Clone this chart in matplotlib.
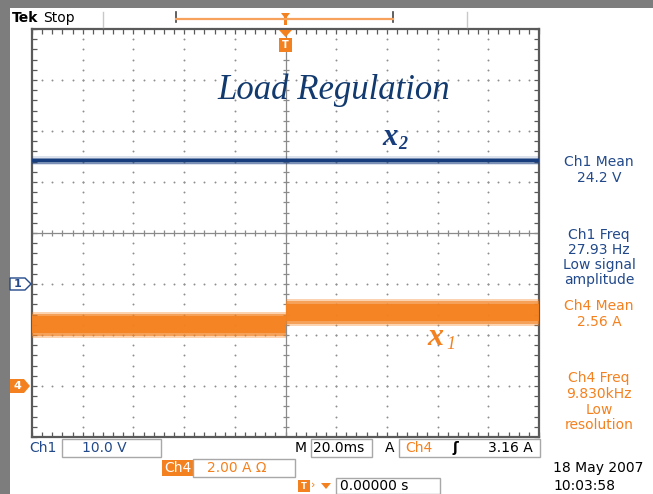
import matplotlib.pyplot as plt
from matplotlib.patches import Rectangle, Polygon

# values
time_ms = [-100, 0, 0, 100]            # 20 ms/div, trigger at 0
ch1_volts = [24.2, 24.2, 24.2, 24.2]   # x2 : output voltage
ch1_noise = 0.6                         # half width of the trace, V
ch4_amps = [2.40, 2.40, 2.88, 2.88]    # x1 : load current step
ch4_noise = 0.52                        # half width of the trace, A

time_div = 20.0                 # ms/div
ch1_scale, ch1_pos = 10.0, -1.0  # V/div, ground marker in div
ch4_scale, ch4_pos = 2.0, -3.0   # A/div, ground marker in div

ch1_readout = ["Ch1 Mean", "24.2 V", "", "", "Ch1 Freq", "27.93 Hz", "Low signal", "amplitude"]
ch4_readout = ["Ch4 Mean", "2.56 A", "", "", "Ch4 Freq", "9.830kHz", "Low", "resolution"]

NAVY = "#22498a"
TRACE_BLUE = "#173d7c"
ORANGE = "#f4811f"
GRID = "#8e8e8e"
FRAME = "#5a5a5a"
W, H = 653, 494

fig = plt.figure(figsize=(W / 100, H / 100), dpi=100)
fig.patch.set_facecolor("white")

# graticule area in pixels
L, T, R, B = 32, 29, 539, 437
ax = fig.add_axes([L / W, (H - B) / H, (R - L) / W, (B - T) / H], zorder=2)
ax.set_xlim(-5 * time_div, 5 * time_div)
ax.set_ylim(-4, 4)

# dotted graticule
for k in range(-4, 5):
    if k == 0:
        continue
    ys = [i * 0.2 - 4 for i in range(41)]
    ax.plot([k * time_div] * len(ys), ys, ls="none", marker="o", ms=1.4, color=GRID, mew=0)
for k in range(-3, 4):
    if k == 0:
        continue
    xs = [(i * 0.2 - 5) * time_div for i in range(51)]
    ax.plot(xs, [k] * len(xs), ls="none", marker="o", ms=1.4, color=GRID, mew=0)

# centre lines with small ticks
ax.axvline(0, color="#8a8a8a", lw=0.9)
ax.axhline(0, color="#8a8a8a", lw=0.9)
ys = [i * 0.2 - 4 for i in range(41)]
ax.plot([0] * len(ys), ys, ls="none", marker="_", ms=5, color="#8a8a8a", mew=0.9)
xs = [(i * 0.2 - 5) * time_div for i in range(51)]
ax.plot(xs, [0] * len(xs), ls="none", marker="|", ms=5, color="#8a8a8a", mew=0.9)

# traces (noise drawn as its envelope, denser towards the middle)
ch1_div = [v / ch1_scale + ch1_pos for v in ch1_volts]
n1 = ch1_noise / ch1_scale
for f, a in [(1.6, 0.15), (1.0, 0.5), (0.55, 1.0)]:
    ax.fill_between(time_ms, [y - n1 * f for y in ch1_div], [y + n1 * f for y in ch1_div],
                    color=TRACE_BLUE, alpha=a, lw=0, zorder=4)

ch4_div = [a / ch4_scale + ch4_pos for a in ch4_amps]
n4 = ch4_noise / ch4_scale
for f, a in [(1.0, 0.35), (0.85, 0.6), (0.65, 0.9)]:
    ax.fill_between(time_ms, [y - n4 * f for y in ch4_div], [y + n4 * f for y in ch4_div],
                    color=ORANGE, alpha=a, lw=0, zorder=4)

# frame with ticks
for s in ax.spines.values():
    s.set_color(FRAME)
    s.set_linewidth(1.6)
ax.set_xticks([k * time_div for k in range(-5, 6)])
ax.set_yticks(range(-4, 5))
ax.set_xticks(xs, minor=True)
ax.set_yticks(ys, minor=True)
ax.tick_params(which="both", direction="in", length=3.5, width=0.9, color=FRAME,
               top=True, right=True, labelbottom=False, labelleft=False)

# overlay in pixel coordinates for the scope furniture
ov = fig.add_axes([0, 0, 1, 1], zorder=5)
ov.set_xlim(0, W)
ov.set_ylim(H, 0)
ov.axis("off")
ov.patch.set_alpha(0)

ov.add_patch(Rectangle((0, 0), 10, H, color="#7d7d7d", lw=0))
ov.add_patch(Rectangle((0, 0), W, 8, color="#7d7d7d", lw=0))

tek = dict(family="DejaVu Sans", fontsize=10, va="center")

# top bar
ov.text(12, 18, "Tek", fontweight="bold", **tek, color="black")
ov.text(43, 18, "Stop", **tek, color="black")
ov.plot([103, 103], [12, 27], color="#c8c8c8", lw=1)
ov.plot([467, 467], [12, 27], color="#c8c8c8", lw=1)
ov.plot([176, 176], [12, 22], color="#444444", lw=1.2)
ov.plot([393, 393], [12, 22], color="#444444", lw=1.2)
ov.plot([176, 393], [19, 19], color="#f6a15c", lw=1.6)
ov.add_patch(Polygon([(281, 13), (290, 13), (287, 17), (287, 25), (284, 25), (284, 17)],
                     closed=True, color=ORANGE, lw=0))

# trigger position marker under the top edge
ov.add_patch(Polygon([(279, 30), (292, 30), (285.5, 37)], closed=True, color=ORANGE, lw=0))
ov.add_patch(Rectangle((279, 38), 13, 14, color=ORANGE, lw=0))
ov.text(285.5, 45, "T", color="white", fontsize=7, fontweight="bold", ha="center", va="center")

# channel ground markers
def level_px(div):
    return T + (4 - div) * (B - T) / 8

y1 = level_px(ch1_pos)
ov.add_patch(Polygon([(10, y1 - 6), (25, y1 - 6), (31, y1), (25, y1 + 6), (10, y1 + 6)],
                     closed=True, facecolor="white", edgecolor=NAVY, lw=1))
ov.text(18, y1, "1", color=NAVY, fontsize=8, fontweight="bold", ha="center", va="center")
y4 = level_px(ch4_pos)
ov.add_patch(Polygon([(10, y4 - 7), (24, y4 - 7), (30, y4), (24, y4 + 7), (10, y4 + 7)],
                     closed=True, color=ORANGE, lw=0))
ov.text(17, y4, "4", color="white", fontsize=8, fontweight="bold", ha="center", va="center")

# annotations
ov.text(334, 90, "Load Regulation", family="Liberation Serif", style="italic",
        fontsize=25, color="#123a6e", ha="center", va="center")
ov.text(382, 137, "x", family="Liberation Serif", style="italic", fontweight="bold",
        fontsize=22, color=TRACE_BLUE, va="center")
ov.text(398, 144, "2", family="Liberation Serif", style="italic", fontweight="bold",
        fontsize=13, color=TRACE_BLUE, va="center")
ov.text(427, 337, "x", family="Liberation Serif", style="italic", fontweight="bold",
        fontsize=23, color=ORANGE, va="center")
ov.text(446, 344, "1", family="Liberation Serif", style="italic",
        fontsize=13, color=ORANGE, va="center")

# measurement readouts on the right
row_y = [162, 178, 0, 0, 235, 250, 265, 280]
for txt, y in zip(ch1_readout, row_y):
    if txt:
        ov.text(599, y, txt, color=NAVY, ha="center", **tek)
row_y = [306, 322, 0, 0, 378, 394, 410, 425]
for txt, y in zip(ch4_readout, row_y):
    if txt:
        ov.text(599, y, txt, color=ORANGE, ha="center", **tek)

# bottom status line
box = dict(fill=False, edgecolor="#a8a8a8", lw=1)
ov.text(29, 448, "Ch1", color=NAVY, **tek)
ov.add_patch(Rectangle((62, 439), 99, 18, **box))
ov.text(82, 448, "10.0 V", color=NAVY, **tek)
ov.text(295, 448, "M", color="black", **tek)
ov.add_patch(Rectangle((311, 439), 61, 18, **box))
ov.text(313, 448, "20.0ms", color="black", **tek)
ov.text(385, 448, "A", color="black", **tek)
ov.add_patch(Rectangle((399, 439), 141, 18, **box))
ov.text(405, 448, "Ch4", color=ORANGE, **tek)
ov.text(452, 448, "ʃ", color="black", fontweight="bold", **tek)
ov.text(488, 448, "3.16 A", color="black", **tek)

ov.add_patch(Rectangle((162, 460), 31, 16, color=ORANGE, lw=0))
ov.text(164, 468, "Ch4", color="white", **tek)
ov.add_patch(Rectangle((193, 459), 102, 18, **box))
ov.text(207, 468, "2.00 A Ω", color=ORANGE, **tek)

ov.add_patch(Rectangle((298, 480), 12, 12, color=ORANGE, lw=0))
ov.text(304, 486, "T", color="white", fontsize=6, fontweight="bold", ha="center", va="center")
ov.text(311, 485, "›", color=ORANGE, fontsize=8, va="center")
ov.add_patch(Polygon([(321, 483), (331, 483), (326, 489)], closed=True, color=ORANGE, lw=0))
ov.add_patch(Rectangle((336, 478), 104, 16, **box))
ov.text(340, 486, "0.00000 s", color="black", **tek)

ov.text(553, 468, "18 May 2007", color="black", **tek)
ov.text(553, 486, "10:03:58", color="black", **tek)

fig.savefig("out.png", dpi=100)
